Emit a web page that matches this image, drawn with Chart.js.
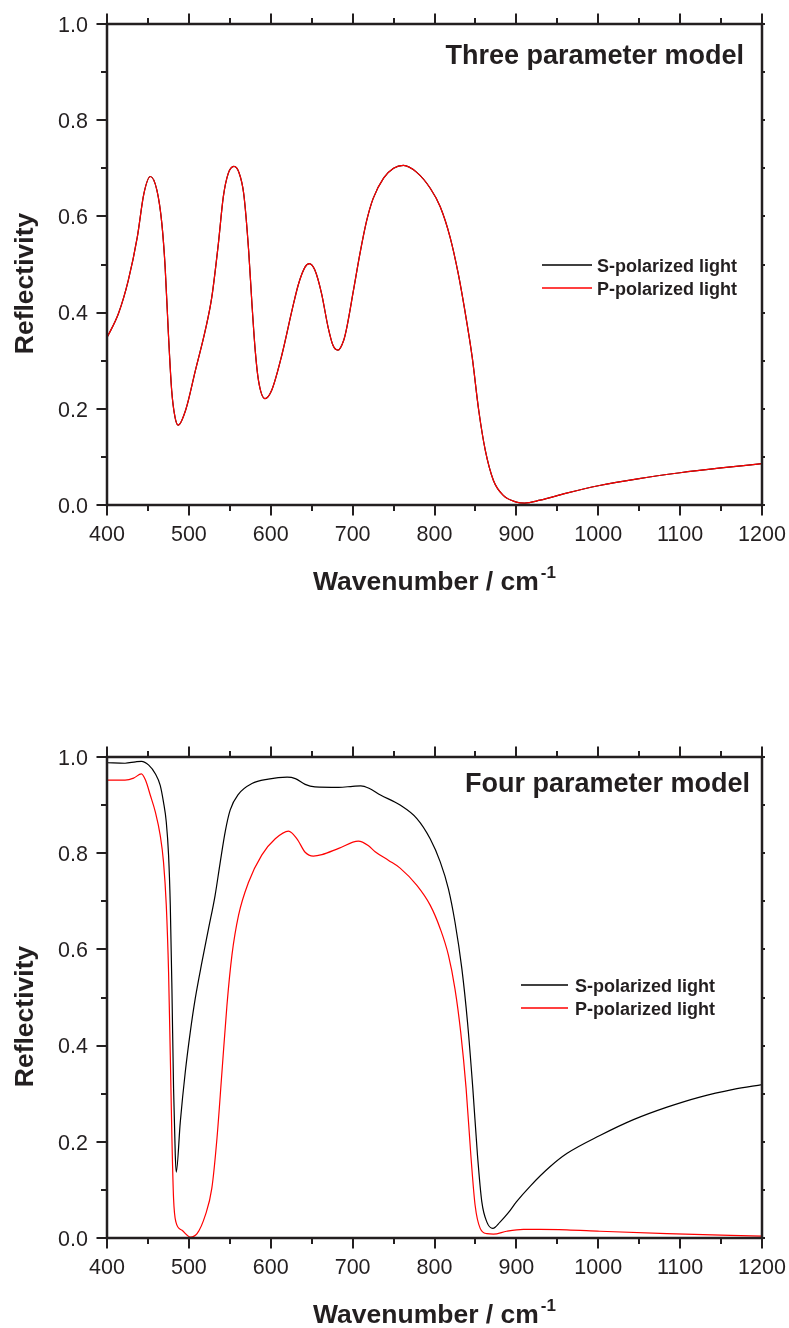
<!DOCTYPE html>
<html>
<head>
<meta charset="utf-8">
<script src="https://cdn.jsdelivr.net/npm/chart.js@4.4.1/dist/chart.umd.min.js"></script>
<style>
  html, body { margin: 0; padding: 0; background: #fff; }
  canvas { position: absolute; left: 0; display: block; }
  #c1 { top: 0; }
  #c2 { top: 664px; }
</style>
</head>
<body>
<canvas id="c1" width="789" height="664"></canvas>
<canvas id="c2" width="789" height="664"></canvas>
<script>
// ---------- DATA ----------
const xTickLabels = [400, 500, 600, 700, 800, 900, 1000, 1100, 1200];
const yTickLabels = ['0.0', '0.2', '0.4', '0.6', '0.8', '1.0'];
const seriesNames = ['S-polarized light', 'P-polarized light'];
const titles = ['Three parameter model', 'Four parameter model'];

// Three parameter model (S and P coincide)
const topWavenumber = [400, 414, 426, 437, 445, 453, 461, 467, 471, 475, 479, 483, 487, 496, 508, 520, 528, 536, 542, 548, 555, 561, 567, 573, 577, 581, 585, 593, 601, 614, 626, 634, 642, 647, 654, 662, 670, 676, 682, 689, 693, 701, 709, 717, 725, 738, 750, 762, 778, 795, 807, 819, 829, 837, 846, 854, 862, 872, 884, 900, 910, 929, 960, 1000, 1050, 1100, 1150, 1200];
const topS = [0.348, 0.398, 0.467, 0.557, 0.647, 0.683, 0.654, 0.585, 0.495, 0.356, 0.238, 0.183, 0.166, 0.197, 0.280, 0.363, 0.432, 0.543, 0.640, 0.689, 0.704, 0.692, 0.647, 0.529, 0.419, 0.322, 0.259, 0.221, 0.238, 0.315, 0.405, 0.460, 0.495, 0.502, 0.488, 0.440, 0.370, 0.332, 0.322, 0.342, 0.370, 0.446, 0.523, 0.590, 0.637, 0.680, 0.700, 0.706, 0.692, 0.658, 0.620, 0.557, 0.481, 0.405, 0.308, 0.197, 0.114, 0.051, 0.020, 0.006, 0.004, 0.010, 0.024, 0.040, 0.055, 0.067, 0.077, 0.086];
const topP = [0.348, 0.398, 0.467, 0.557, 0.647, 0.683, 0.654, 0.585, 0.495, 0.356, 0.238, 0.183, 0.166, 0.197, 0.280, 0.363, 0.432, 0.543, 0.640, 0.689, 0.704, 0.692, 0.647, 0.529, 0.419, 0.322, 0.259, 0.221, 0.238, 0.315, 0.405, 0.460, 0.495, 0.502, 0.488, 0.440, 0.370, 0.332, 0.322, 0.342, 0.370, 0.446, 0.523, 0.590, 0.637, 0.680, 0.700, 0.706, 0.692, 0.658, 0.620, 0.557, 0.481, 0.405, 0.308, 0.197, 0.114, 0.051, 0.020, 0.006, 0.004, 0.010, 0.024, 0.040, 0.055, 0.067, 0.077, 0.086];

// Four parameter model
const botSWavenumber = [400, 422, 435, 442, 451, 459, 465, 469, 472.4, 475.2, 477.3, 479.3, 481.3, 483.4, 484.6, 489.5, 495.6, 501.7, 507.8, 516, 524, 532, 538, 544.4, 550.5, 560.7, 577, 597, 620, 630, 642, 654, 683, 700, 710, 720, 734, 758, 778.5, 794.7, 807, 817, 825, 833.4, 840.3, 846.8, 852.5, 857.8, 864, 871.3, 880, 890, 900, 917, 941, 962, 1002, 1043, 1084, 1124, 1165, 1200];
const botS = [0.988, 0.987, 0.990, 0.991, 0.983, 0.965, 0.941, 0.906, 0.865, 0.796, 0.692, 0.518, 0.311, 0.172, 0.137, 0.241, 0.345, 0.428, 0.498, 0.574, 0.643, 0.712, 0.778, 0.845, 0.890, 0.923, 0.945, 0.954, 0.958, 0.955, 0.943, 0.938, 0.937, 0.939, 0.940, 0.935, 0.921, 0.900, 0.872, 0.830, 0.782, 0.726, 0.657, 0.560, 0.449, 0.311, 0.172, 0.075, 0.033, 0.020, 0.033, 0.052, 0.075, 0.108, 0.148, 0.176, 0.213, 0.246, 0.272, 0.293, 0.309, 0.319];
const botPWavenumber = [400, 422, 432.5, 442, 447, 453, 459, 465, 469, 472.4, 475.2, 477.3, 479.3, 481.3, 484.2, 491.6, 501.7, 510, 520, 528, 534.3, 540.4, 546.5, 552.6, 560.7, 573, 589, 605.5, 621.7, 632, 642, 652, 662.5, 683, 707, 719, 727.5, 744, 758, 778.5, 794.7, 807, 817, 825, 832, 838.6, 844.4, 849.6, 855.8, 864, 872, 888, 908.6, 929, 961.6, 1002, 1084, 1200];
const botP = [0.952, 0.952, 0.956, 0.965, 0.952, 0.920, 0.886, 0.837, 0.782, 0.692, 0.553, 0.380, 0.207, 0.082, 0.033, 0.016, 0.002, 0.009, 0.047, 0.103, 0.207, 0.345, 0.484, 0.588, 0.671, 0.740, 0.796, 0.830, 0.846, 0.830, 0.802, 0.794, 0.797, 0.810, 0.825, 0.816, 0.803, 0.785, 0.769, 0.733, 0.692, 0.643, 0.588, 0.518, 0.428, 0.311, 0.172, 0.068, 0.020, 0.009, 0.008, 0.014, 0.018, 0.018, 0.017, 0.014, 0.009, 0.004];

// ---------- STYLE ----------
const INK = '#231f20';
const FONT = '"Liberation Sans", Arial, Helvetica, sans-serif';
const S_COLOR = '#000000';
const P_COLOR = '#ff0000';

function pts(xs, ys) { return xs.map((v, i) => ({ x: v, y: ys[i] })); }

const framePlugin = {
  id: 'frame',
  afterDatasetsDraw(chart, args, o) {
    const ctx = chart.ctx, a = chart.chartArea, xs = chart.scales.x, ys = chart.scales.y;
    ctx.save();
    ctx.strokeStyle = INK;
    ctx.fillStyle = INK;
    ctx.lineCap = 'butt';
    // frame
    ctx.lineWidth = 2.5;
    ctx.strokeRect(a.left, a.top, a.right - a.left, a.bottom - a.top);
    ctx.lineWidth = 2;
    // x ticks (major + minor midpoints)
    const xMaj = xTickLabels;
    const xAll = [];
    xMaj.forEach((v, i) => { xAll.push([v, true]); if (i < xMaj.length - 1) xAll.push([(v + xMaj[i + 1]) / 2, false]); });
    ctx.beginPath();
    xAll.forEach(([v, major]) => {
      const px = Math.round(xs.getPixelForValue(v));
      const len = major ? 10.5 : 6;
      ctx.moveTo(px, a.bottom); ctx.lineTo(px, a.bottom + len);
      ctx.moveTo(px, a.top); ctx.lineTo(px, a.top - len);
    });
    ctx.stroke();
    // y ticks
    const yMaj = yTickLabels.map(Number);
    const yAll = [];
    yMaj.forEach((v, i) => { yAll.push([v, true]); if (i < yMaj.length - 1) yAll.push([(v + yMaj[i + 1]) / 2, false]); });
    ctx.beginPath();
    yAll.forEach(([v, major]) => {
      const py = Math.round(ys.getPixelForValue(v));
      const len = major ? 10.5 : 6;
      ctx.moveTo(a.left, py); ctx.lineTo(a.left - len, py);
      ctx.moveTo(a.right, py); ctx.lineTo(a.right + 3, py);
    });
    ctx.stroke();
    // tick labels
    ctx.font = '21.5px ' + FONT;
    ctx.textAlign = 'center';
    ctx.textBaseline = 'alphabetic';
    xMaj.forEach(v => ctx.fillText(String(v), xs.getPixelForValue(v), a.bottom + 36));
    ctx.textAlign = 'right';
    yTickLabels.forEach(t => ctx.fillText(t, 88, ys.getPixelForValue(Number(t)) + 7.7));
    // x axis title with superscript
    const main = 'Wavenumber / cm';
    const sup = '-1';
    ctx.font = 'bold 26.5px ' + FONT;
    const w1 = ctx.measureText(main).width;
    ctx.font = 'bold 17px ' + FONT;
    const w2 = ctx.measureText(sup).width;
    const cx = (a.left + a.right) / 2;
    const sx = cx - (w1 + w2 + 2) / 2;
    ctx.textAlign = 'left';
    ctx.font = 'bold 26.5px ' + FONT;
    ctx.fillText(main, sx, a.bottom + 85);
    ctx.font = 'bold 17px ' + FONT;
    ctx.fillText(sup, sx + w1 + 2, a.bottom + 73);
    // y axis title
    ctx.save();
    ctx.translate(33, (a.top + a.bottom) / 2 + 19);
    ctx.rotate(-Math.PI / 2);
    ctx.textAlign = 'center';
    ctx.font = 'bold 26.5px ' + FONT;
    ctx.fillText('Reflectivity', 0, 0);
    ctx.restore();
    // chart title
    ctx.textAlign = 'right';
    ctx.font = 'bold 27px ' + FONT;
    ctx.fillText(o.title, o.titleX, o.titleY);
    // legend
    ctx.font = 'bold 18px ' + FONT;
    ctx.textAlign = 'left';
    chart.data.datasets.forEach((ds, i) => {
      const ly = o.legY[i];
      ctx.strokeStyle = ds.borderColor;
      ctx.lineWidth = 1.3;
      ctx.beginPath();
      ctx.moveTo(o.legX1, ly); ctx.lineTo(o.legX2, ly);
      ctx.stroke();
      ctx.fillStyle = INK;
      ctx.fillText(ds.label, o.legTextX, ly + 6.5);
    });
    ctx.restore();
  }
};

function makeChart(id, sData, pData, pad, frameOpts) {
  return new Chart(document.getElementById(id), {
    type: 'line',
    data: {
      datasets: [
        { label: seriesNames[0], data: sData, borderColor: S_COLOR, borderWidth: 1.2, pointRadius: 0, cubicInterpolationMode: 'monotone', order: 1, clip: 4 },
        { label: seriesNames[1], data: pData, borderColor: P_COLOR, borderWidth: 1.2, pointRadius: 0, cubicInterpolationMode: 'monotone', order: 0, clip: 4 }
      ]
    },
    options: {
      responsive: false,
      animation: false,
      devicePixelRatio: 1,
      layout: { padding: pad },
      scales: {
        x: { type: 'linear', min: 400, max: 1200, display: false },
        y: { type: 'linear', min: 0, max: 1, display: false }
      },
      plugins: {
        legend: { display: false },
        tooltip: { enabled: false },
        frame: frameOpts
      }
    },
    plugins: [framePlugin]
  });
}

makeChart('c1', pts(topWavenumber, topS), pts(topWavenumber, topP),
  { left: 107, right: 27, top: 24, bottom: 159 },
  { title: titles[0], titleX: 744, titleY: 64, legX1: 542, legX2: 592, legTextX: 597, legY: [265, 288] });

makeChart('c2', pts(botSWavenumber, botS), pts(botPWavenumber, botP),
  { left: 107, right: 27, top: 93, bottom: 90 },
  { title: titles[1], titleX: 750, titleY: 128, legX1: 521, legX2: 568, legTextX: 575, legY: [321, 344] });
</script>
</body>
</html>
